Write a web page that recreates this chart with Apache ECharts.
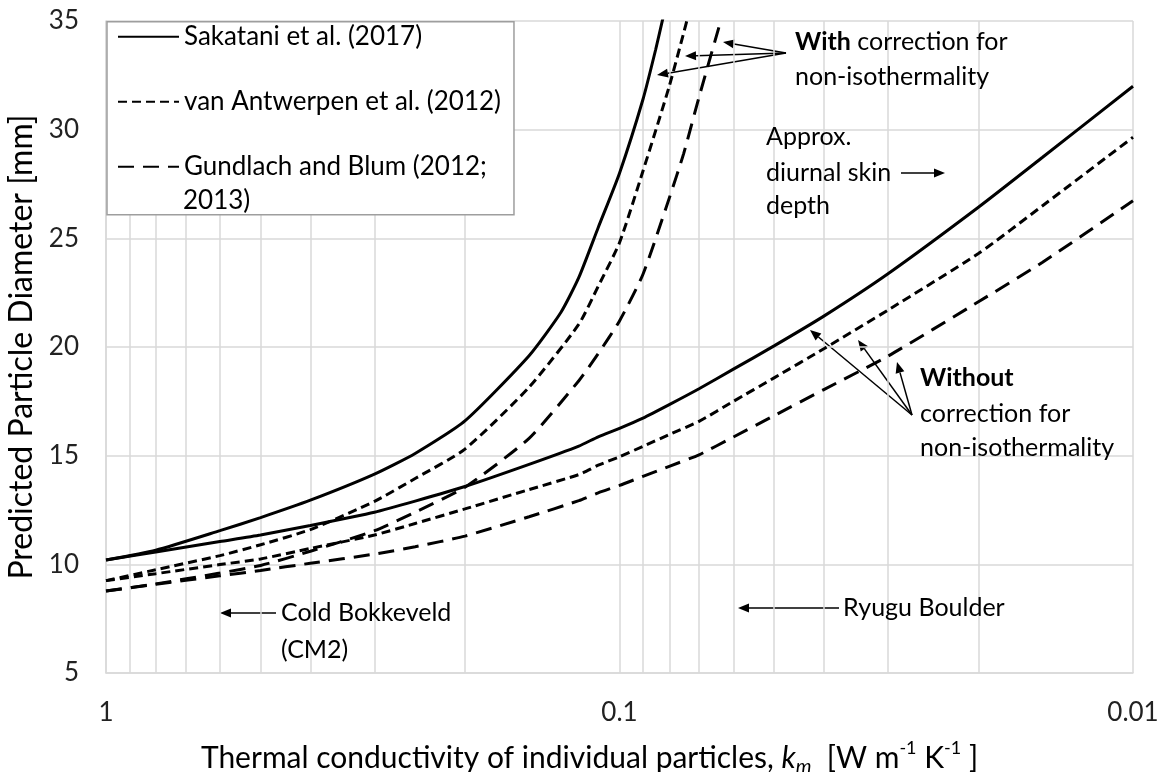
<!DOCTYPE html>
<html><head><meta charset="utf-8">
<script src="https://cdn.jsdelivr.net/npm/echarts@6/dist/echarts.min.js"></script>
<style>html,body{margin:0;padding:0;background:#fff}#c{width:1166px;height:772px}</style>
</head><body><div id="c"></div><script>
const FONT = 'Lato, "Open Sans", sans-serif';

// axis / grid values
const yTicks = [5, 10, 15, 20, 25, 30, 35];
const xMajor = [1, 0.1, 0.01];
const minorGridKm = [0.9, 0.8, 0.7, 0.6, 0.5, 0.4, 0.3, 0.2, 0.09, 0.08, 0.07, 0.06, 0.05, 0.04, 0.03, 0.02];

const seriesNames = ['Sakatani et al. (2017)', 'van Antwerpen et al. (2012)', 'Gundlach and Blum (2012; 2013)'];

// without correction for non-isothermality
const kmWithout = [1, 0.8, 0.6, 0.5, 0.4, 0.3, 0.25, 0.2, 0.15, 0.12, 0.11, 0.1, 0.09, 0.08, 0.07, 0.06, 0.05, 0.04, 0.03, 0.02, 0.015, 0.01];
const sakataniWithout = [10.2, 10.57, 11.05, 11.35, 11.79, 12.4, 12.91, 13.58, 14.6, 15.44, 15.87, 16.26, 16.73, 17.35, 18.08, 18.98, 20.05, 21.42, 23.37, 26.43, 28.73, 32.0];
const vanAntwerpenWithout = [9.25, 9.57, 9.99, 10.25, 10.73, 11.35, 11.88, 12.55, 13.44, 14.13, 14.56, 14.95, 15.43, 15.97, 16.58, 17.5, 18.58, 19.92, 21.7, 24.3, 26.5, 29.65];
const gundlachWithout = [8.77, 9.08, 9.47, 9.72, 10.05, 10.47, 10.81, 11.3, 12.19, 12.93, 13.29, 13.63, 14.05, 14.51, 15.04, 15.86, 16.84, 18.04, 19.58, 22.08, 23.9, 26.73];

// with correction for non-isothermality
const kmSakataniWith = [1, 0.8, 0.6, 0.5, 0.4, 0.3, 0.25, 0.2, 0.15, 0.13, 0.12, 0.11, 0.1, 0.09, 0.085, 0.082];
const sakataniWith = [10.2, 10.65, 11.55, 12.15, 12.95, 14.15, 15.1, 16.6, 19.6, 21.6, 23.2, 25.5, 28.0, 31.4, 33.7, 35.3];
const kmVanAntwerpenWith = [1, 0.8, 0.6, 0.5, 0.4, 0.3, 0.25, 0.2, 0.15, 0.12, 0.11, 0.1, 0.09, 0.08, 0.073];
const vanAntwerpenWith = [9.25, 9.75, 10.4, 10.9, 11.6, 12.9, 13.95, 15.3, 18.15, 21.05, 22.8, 24.8, 28.1, 32.0, 35.5];
const kmGundlachWith = [1, 0.8, 0.6, 0.5, 0.4, 0.3, 0.25, 0.2, 0.15, 0.12, 0.11, 0.1, 0.09, 0.08, 0.075, 0.07, 0.063];
const gundlachWith = [8.77, 9.1, 9.6, 9.95, 10.6, 11.55, 12.4, 13.55, 15.8, 18.45, 19.7, 21.2, 23.35, 26.85, 28.9, 31.5, 35.3];

const zip = (xs, ys) => xs.map((x, i) => [x, ys[i]]);
const SOLID = 'solid', SHORT = [9, 5], LONG = [16, 9];
const GRID_C = '#d9d9d9';

function line(name, xs, ys, type) {
  return {
    name, type: 'line', data: zip(xs, ys), showSymbol: false, symbol: 'none',
    smooth: 0.2, z: 3, silent: true,
    lineStyle: { color: '#000', width: 3, type, cap: 'butt' },
    itemStyle: { color: '#000' }
  };
}

function arrow(x1, y1, x2, y2) {
  const dx = x2 - x1, dy = y2 - y1, L = Math.hypot(dx, dy), ux = dx / L, uy = dy / L;
  const head = 11, w = 4.5;
  const bx = x2 - ux * head, by = y2 - uy * head;
  return { type: 'group', children: [
    { type: 'line', shape: { x1, y1, x2: bx, y2: by }, style: { stroke: '#000', lineWidth: 1.5 } },
    { type: 'polygon', shape: { points: [[x2, y2], [bx - uy * w, by + ux * w], [bx + uy * w, by - ux * w]] }, style: { fill: '#000' } }
  ]};
}
const ANN = 25, LEG = 26;
function txt(x, y, text, extra) {
  return { type: 'text', x, y, z: 10, style: Object.assign({ text, fontFamily: FONT, fontSize: ANN, fill: '#000', align: 'left', verticalAlign: 'middle' }, extra || {}) };
}
const boldRich = { b: { fontFamily: FONT, fontSize: ANN, fontWeight: 'bold', fill: '#000' } };

const chart = echarts.init(document.getElementById('c'), null, { renderer: 'canvas' });
chart.setOption({
  animation: false,
  backgroundColor: '#fff',
  textStyle: { fontFamily: FONT },
  grid: { left: 106, right: 33, top: 21, bottom: 99, containLabel: false, outerBoundsMode: 'none' },
  legend: {
    left: 107, top: 21.7, orient: 'vertical',
    backgroundColor: '#fff', borderColor: '#9e9e9e', borderWidth: 1.5,
    padding: [-4, 13, 29, 10], itemGap: 27, itemWidth: 61, itemHeight: 14,
    itemStyle: { color: 'rgba(0,0,0,0)', borderWidth: 0, opacity: 0 },
    textStyle: { fontFamily: FONT, fontSize: LEG, color: '#000', lineHeight: 38 },
    data: seriesNames,
    formatter: n => n === seriesNames[2] ? 'Gundlach and Blum (2012;' : n,
    selectedMode: false, z: 8
  },
  xAxis: {
    type: 'log', logBase: 10, min: 0.01, max: 1, inverse: true,
    name: 'Thermal conductivity of individual particles, {i|k}{sub|m}  [W m{sup|-1} K{sup|-1} ]',
    nameLocation: 'middle', nameGap: 66,
    nameTextStyle: {
      fontFamily: FONT, fontSize: 30, color: '#000', lineHeight: 38, padding: [0, 60, 0, 0],
      rich: {
        i: { fontFamily: FONT, fontSize: 30, fontStyle: 'italic', color: '#000', lineHeight: 38 },
        sub: { fontFamily: FONT, fontSize: 20, fontStyle: 'italic', color: '#000', verticalAlign: 'bottom', lineHeight: 38 },
        sup: { fontFamily: FONT, fontSize: 18, color: '#000', verticalAlign: 'top', lineHeight: 38 }
      }
    },
    axisLine: { show: true, lineStyle: { color: GRID_C, width: 1.5 } },
    axisTick: { show: false },
    axisLabel: { fontFamily: FONT, fontSize: 26, color: '#222', margin: 27, formatter: v => String(xMajor.find(t => Math.abs(t - v) / t < 1e-6) ?? v) },
    splitLine: { show: true, lineStyle: { color: GRID_C, width: 1.5 } }
  },
  yAxis: {
    type: 'value', min: yTicks[0], max: yTicks[yTicks.length - 1], interval: 5,
    name: 'Predicted Particle Diameter [mm]', nameLocation: 'middle', nameGap: 63,
    nameTextStyle: { fontFamily: FONT, fontSize: 32, color: '#000' },
    axisLine: { show: true, lineStyle: { color: GRID_C, width: 1.5 } },
    axisTick: { show: false },
    axisLabel: { fontFamily: FONT, fontSize: 26, color: '#222', margin: 27 },
    splitLine: { show: true, lineStyle: { color: GRID_C, width: 1.5 } }
  },
  series: [
    {
      type: 'line', data: [], z: 1, silent: true,
      markLine: {
        silent: true, symbol: 'none', label: { show: false }, z: 1,
        lineStyle: { color: GRID_C, width: 1.5, type: 'solid' },
        data: minorGridKm.map(v => ({ xAxis: v }))
      }
    },
    line(seriesNames[0], kmWithout, sakataniWithout, SOLID),
    line(seriesNames[1], kmWithout, vanAntwerpenWithout, SHORT),
    line(seriesNames[2], kmWithout, gundlachWithout, LONG),
    line(seriesNames[0], kmSakataniWith, sakataniWith, SOLID),
    line(seriesNames[1], kmVanAntwerpenWith, vanAntwerpenWith, SHORT),
    line(seriesNames[2], kmGundlachWith, gundlachWith, LONG)
  ],
  graphic: [
    txt(183, 201, '2013)', { fontSize: LEG }),
    txt(795, 42, '{b|With} correction for', { rich: boldRich }),
    txt(795, 77, 'non-isothermality'),
    arrow(786, 53, 723, 42), arrow(786, 53, 685, 56), arrow(786, 53, 657, 75),
    txt(766, 137, 'Approx.'), txt(766, 173, 'diurnal skin'), txt(766, 206, 'depth'),
    arrow(901, 173, 945, 173),
    txt(920, 378, 'Without', { fontWeight: 'bold' }),
    txt(920, 414, 'correction for'), txt(920, 448, 'non-isothermality'),
    arrow(912, 415, 810, 330), arrow(912, 415, 858, 340), arrow(912, 415, 897, 362),
    txt(281, 613, 'Cold Bokkeveld'), txt(281, 650, '(CM2)'),
    arrow(276, 613, 220, 613),
    txt(843, 608, 'Ryugu Boulder'),
    arrow(839, 608, 738, 608)
  ]
});
</script></body></html>
